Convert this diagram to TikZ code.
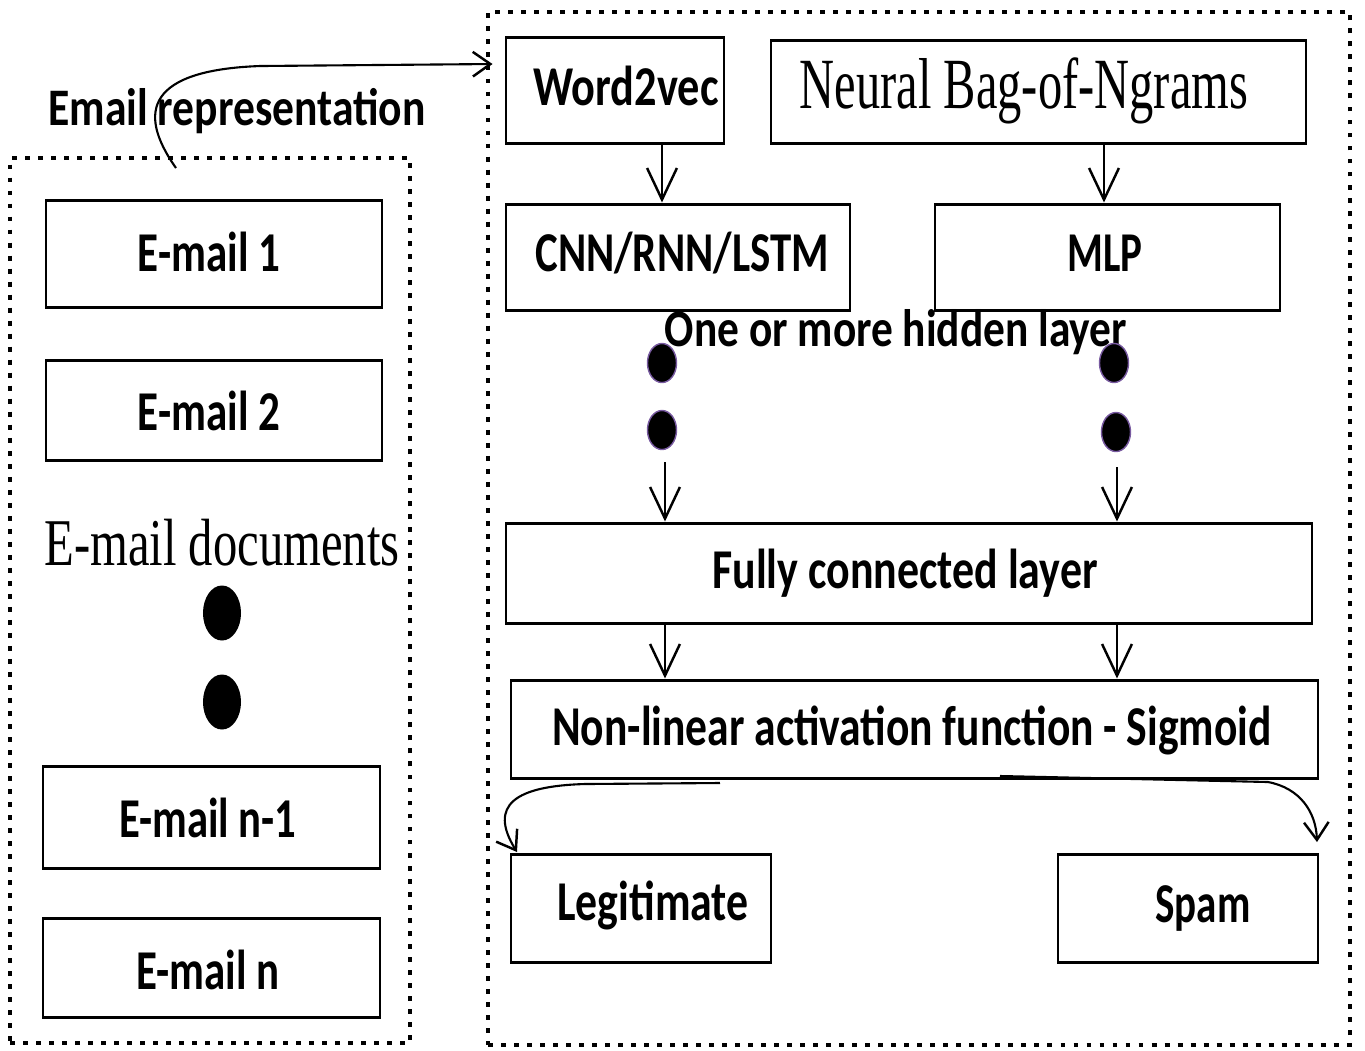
\documentclass[tikz,border=0pt]{standalone}
\usepackage{fontspec}
\setmainfont{Carlito}
\newfontfamily\serifface{Liberation Serif}
\usetikzlibrary{arrows.meta,fit,shapes.geometric}
\newlength\pxu
\setlength\pxu{0.28453pt}
\newcommand\cw[2]{\resizebox{#1\pxu}{\height}{#2}}
\definecolor{dotrim}{RGB}{120,90,160}
\tikzset{
  bx/.style={draw=black, line width=0.85pt, inner sep=0pt},
  dotbox/.style={draw=black, line width=1.4pt, dash pattern=on 1.4pt off 2.3pt},
  arr/.style={draw=black, line width=0.6pt, -{Straight Barb[length=9pt,width=8.5pt,line width=0.7pt]}},
  carr/.style={draw=black, line width=0.6pt, -{Straight Barb[length=5pt,width=7pt,line width=0.7pt]}},
  lbl/.style={inner sep=0pt, font=\fontsize{16}{18}\selectfont\bfseries},
  slbl/.style={inner sep=0pt, font=\fontsize{19}{22}\selectfont\serifface},
  bigdot/.style={ellipse, fill=black, inner sep=0pt, minimum width=38\pxu, minimum height=55\pxu},
  hdot/.style={ellipse, fill=black, draw=dotrim, line width=0.4pt, inner sep=0pt, minimum width=29\pxu, minimum height=39\pxu},
}
\begin{document}
\begin{tikzpicture}[x=0.01cm,y=-0.01cm]
\useasboundingbox (0,0) rectangle (1365,1050);
% dotted containers
\node[dotbox, inner sep=0pt, fit={(10,158) (410,1043)}] (left) {};
\node[dotbox, inner sep=0pt, fit={(488,12) (1350,1045)}] (right) {};
% left side boxes
\node[bx, fit={(46,200) (382,307)}] (e1) {};
\node[bx, fit={(46,360) (382,460)}] (e2) {};
\node[bx, fit={(43,766) (380,868)}] (en1) {};
\node[bx, fit={(43,918) (380,1017)}] (en) {};
\node[lbl, font=\fontsize{15}{17}\selectfont\bfseries] (ert) at (237,111) {\cw{377}{Email representation}};
\node[lbl] (e1t) at (209,252) {\cw{142}{E-mail 1}};
\node[lbl] (e2t) at (209,411) {\cw{142}{E-mail 2}};
\node[lbl] (en1t) at (208,818) {\cw{177}{E-mail n-1}};
\node[lbl] (ent) at (208,970) {\cw{143}{E-mail n}};
\node[slbl] (docs) at (222,543) {\cw{355}{E-mail documents}};
\node[bigdot] (d1) at (222,613) {};
\node[bigdot] (d2) at (222,702) {};
% right side boxes
\node[bx, fit={(506,37) (724,143)}] (w2v) {};
\node[bx, fit={(771,40) (1306,143)}] (nbn) {};
\node[bx, fit={(506,204) (850,310)}] (cnn) {};
\node[bx, fit={(935,204) (1280,310)}] (mlp) {};
\node[bx, fit={(506,523) (1312,623)}] (fully) {};
\node[bx, fit={(511,680) (1318,778)}] (nl) {};
\node[bx, fit={(511,854) (771,962)}] (legit) {};
\node[bx, fit={(1058,854) (1318,962)}] (spam) {};
\node[lbl] (w2vt) at (626,86) {\cw{185}{Word2vec}};
\node[slbl, font=\fontsize{20.5}{23}\selectfont\serifface] (nbnt) at (1024,91) {\cw{448}{Neural Bag-of-Ngrams}};
\node[lbl] (cnnt) at (682,253) {\cw{293}{CNN/RNN/LSTM}};
\node[lbl] (mlpt) at (1105,253) {\cw{75}{MLP}};
\node[lbl, font=\fontsize{15}{17}\selectfont\bfseries] (hid) at (896,332) {\cw{462}{One or more hidden layer}};
\node[lbl] (fullyt) at (905,573) {\cw{385}{Fully connected layer}};
\node[lbl] (nlt) at (912,730) {\cw{719}{Non-linear activation function - Sigmoid}};
\node[lbl] (legitt) at (653,905) {\cw{191}{Legitimate}};
\node[lbl] (spamt) at (1203,908) {\cw{95}{Spam}};
\node[hdot] (h1) at (662,363) {};
\node[hdot] (h2) at (662,430) {};
\node[hdot] (h3) at (1114,363) {};
\node[hdot] (h4) at (1116,432) {};
% arrows
\draw[arr] (w2v.south -| 662,0) -- (cnn.north -| 662,0);
\draw[arr] (nbn.south -| 1104,0) -- (mlp.north -| 1104,0);
\coordinate (h2s) at (665,462);
\coordinate (h4s) at (1117,467);
\draw[arr] (h2s) -- (fully.north -| h2s);
\draw[arr] (h4s) -- (fully.north -| h4s);
\draw[arr] (fully.south -| 665,0) -- (nl.north -| 665,0);
\draw[arr] (fully.south -| 1117,0) -- (nl.north -| 1117,0);
% curved connectors
\coordinate (topstart) at (176,168);
\coordinate (topend) at (right.west |- 0,64);
\draw[carr] (topstart) .. controls (135,110) and (150,70) .. (260,66) -- ([xshift=2pt]topend);
\coordinate (lstart) at (720,783);
\coordinate (lend) at (517,852);
\draw[carr] (lstart) -- (585,784) .. controls (515,786) and (488,805) .. (lend);
\coordinate (rstart) at (1000,776);
\coordinate (rend) at (1317,842);
\draw[carr] (rstart) -- (1268,782) .. controls (1300,788) and (1316,812) .. (rend);
\end{tikzpicture}
\end{document}
